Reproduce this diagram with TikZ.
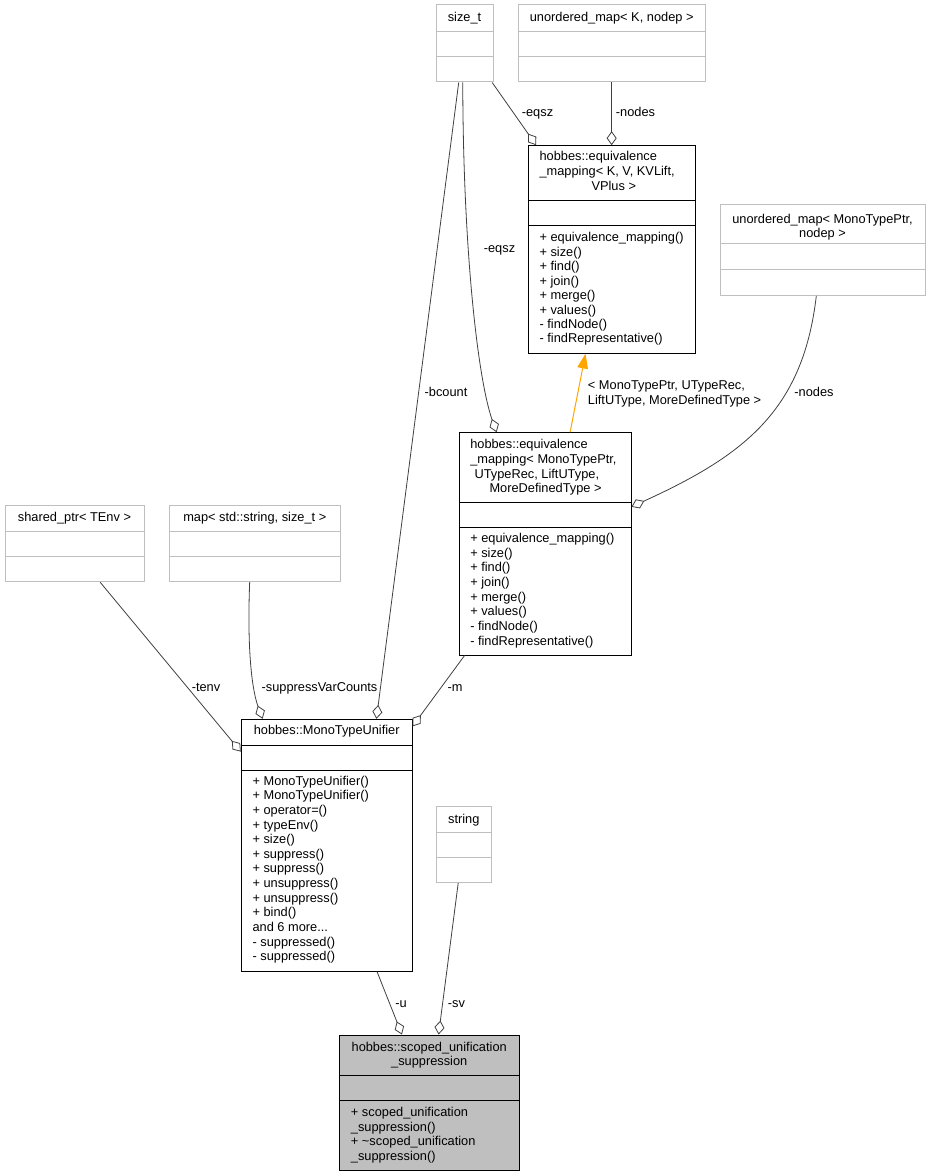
\documentclass[tikz,border=0pt]{standalone}
\usepackage{fontspec}
\setmainfont{Liberation Sans}
\usetikzlibrary{arrows.meta,fit,calc}
\definecolor{extgray}{HTML}{BFBFBF}
\definecolor{edgegray}{HTML}{404040}
\definecolor{inhorange}{HTML}{FFA500}
\definecolor{scopedfill}{HTML}{BFBFBF}
\begin{document}
\begin{tikzpicture}[x=0.75pt,y=-0.75pt,
  cls/.style={draw=black, line width=0.75pt, inner sep=0pt},
  ext/.style={draw=extgray, line width=0.75pt, inner sep=0pt},
  sep/.style={line width=0.75pt},
  txt/.style={font=\fontsize{9.6}{11}\selectfont, inner sep=0pt, anchor=base},
  txtl/.style={txt, anchor=base west},
  agg/.style={draw=edgegray, line width=0.6pt, -{Diamond[open,length=10.5pt,width=7.5pt,line width=0.6pt]}},
  inh/.style={draw=inhorange, line width=0.75pt, -{Triangle[length=11pt,width=8pt,fill=inhorange]}}
]
\useasboundingbox (0,0) rectangle (931,1176);
\fill[white] (0,0) rectangle (931,1176);

% ---------- boxes ----------
\node[ext, fit={(436,5) (493,82)}] (sizet) {};
\draw[extgray, sep] (436,32) -- (493,32) (436,57) -- (493,57);
\node[txt] (sizet-t) at (464.5,22) {size\_t};

\node[ext, fit={(518.3,5) (705,82)}] (umapK) {};
\draw[extgray, sep] (518.3,32) -- (705,32) (518.3,57) -- (705,57);
\node[txt] (umapK-t) at (611.7,22) {unordered\_map< K, nodep >};

\node[cls, fit={(528.3,145.7) (695,353.3)}] (eqK) {};
\draw[sep] (528.3,201) -- (695,201) (528.3,225.7) -- (695,225.7);
\node[txtl] (eqK-t1) at (539.3,160.5) {hobbes::equivalence};
\node[txtl] (eqK-t2) at (539.3,175.5) {\_mapping< K, V, KVLift,};
\node[txt]  (eqK-t3) at (613.8,190.5) {VPlus >};
\foreach \s [count=\i] in {+ equivalence\_mapping(), + size(), + find(), + join(), + merge(), + values(), - findNode(), - findRepresentative()}
  \node[txtl] (eqK-m\i) at (539.3,{241.8+(\i-1)*14.45}) {\s};

\node[ext, fit={(720,204.3) (925,295.3)}] (umapM) {};
\draw[extgray, sep] (720,244) -- (925,244) (720,269.3) -- (925,269.3);
\node[txt] (umapM-t1) at (822.5,223.5) {unordered\_map< MonoTypePtr,};
\node[txt] (umapM-t2) at (822.5,238) {nodep >};

\node[cls, fit={(459,432.7) (631,655)}] (eqM) {};
\draw[sep] (459,502.3) -- (631,502.3) (459,527.3) -- (631,527.3);
\node[txtl] (eqM-t1) at (470,448.3) {hobbes::equivalence};
\node[txtl] (eqM-t2) at (470,463) {\_mapping< MonoTypePtr,};
\node[txtl] (eqM-t3) at (474.3,478) {UTypeRec, LiftUType,};
\node[txtl] (eqM-t4) at (489.3,492.7) {MoreDefinedType >};
\foreach \s [count=\i] in {+ equivalence\_mapping(), + size(), + find(), + join(), + merge(), + values(), - findNode(), - findRepresentative()}
  \node[txtl] (eqM-m\i) at (470,{542.5+(\i-1)*14.65}) {\s};

\node[ext, fit={(5,505.7) (144,581.7)}] (shptr) {};
\draw[extgray, sep] (5,531.7) -- (144,531.7) (5,556.7) -- (144,556.7);
\node[txt] (shptr-t) at (74.5,521.3) {shared\_ptr< TEnv >};

\node[ext, fit={(169,505.7) (340.7,581.7)}] (mapstr) {};
\draw[extgray, sep] (169,531.7) -- (340.7,531.7) (169,556.7) -- (340.7,556.7);
\node[txt] (mapstr-t) at (254.8,521.3) {map< std::string, size\_t >};

\node[cls, fit={(241.3,719.3) (412,971)}] (mtu) {};
\draw[sep] (241.3,745) -- (412,745) (241.3,770) -- (412,770);
\node[txt] (mtu-t) at (326.7,734.7) {hobbes::MonoTypeUnifier};
\foreach \s [count=\i] in {+ MonoTypeUnifier(), + MonoTypeUnifier(), + operator=(), + typeEnv(), + size(), + suppress(), + suppress(), + unsuppress(), + unsuppress(), + bind(), and 6 more.\relax.\relax., - suppressed(), - suppressed()}
  \node[txtl] (mtu-m\i) at (252.3,{785.2+(\i-1)*14.63}) {\s};

\node[ext, fit={(436,806.7) (491.7,882.7)}] (str) {};
\draw[extgray, sep] (436,832.3) -- (491.7,832.3) (436,857.3) -- (491.7,857.3);
\node[txt] (str-t) at (463.8,823) {string};

\node[cls, fill=scopedfill, fit={(339,1035) (519.3,1170)}] (scoped) {};
\draw[sep] (339,1075.7) -- (519.3,1075.7) (339,1100.7) -- (519.3,1100.7);
\node[txt] (scoped-t1) at (429.2,1051.3) {hobbes::scoped\_unification};
\node[txt] (scoped-t2) at (429.2,1065.7) {\_suppression};
\node[txtl] (scoped-m1) at (350.7,1116.8) {+ scoped\_unification};
\node[txtl] (scoped-m2) at (350.7,1131.2) {\_suppression()};
\node[txtl] (scoped-m3) at (350.7,1145.8) {+ \textasciitilde scoped\_unification};
\node[txtl] (scoped-m4) at (350.7,1160.2) {\_suppression()};

% ---------- connectors ----------
\draw[agg] ($(sizet.south west)!0.977!(sizet.south east)$) -- ($(eqK.north west)!0.05!(eqK.north east)$);
\node[txt] (l-eqsz1) at (537.5,116.5) {-eqsz};

\draw[agg] (umapK.south) -- (eqK.north);
\node[txt] (l-nodes1) at (635.5,116.5) {-nodes};

\draw[agg] ($(sizet.south west)!0.47!(sizet.south east)$) .. controls (463,250) and (478,380) .. ($(eqM.north west)!0.22!(eqM.north east)$);
\node[txt] (l-eqsz2) at (499.5,253) {-eqsz};

\draw[agg] ($(sizet.south west)!0.40!(sizet.south east)$) -- ($(mtu.north west)!0.79!(mtu.north east)$);
\node[txt] (l-bcount) at (446,396) {-bcount};

\draw[inh] ($(eqM.north west)!0.645!(eqM.north east)$) -- ($(eqK.south west)!0.344!(eqK.south east)$);
\node[txtl] (l-inh1) at (587.7,389) {< MonoTypePtr, UTypeRec,};
\node[txtl] (l-inh2) at (587.7,404) {LiftUType, MoreDefinedType >};

\draw[agg] ($(umapM.south west)!0.47!(umapM.south east)$) .. controls (803,410) and (745,455) .. ($(eqM.north east)!0.334!(eqM.south east)$);
\node[txt] (l-nodes2) at (814,396) {-nodes};

\draw[agg] ($(shptr.south west)!0.683!(shptr.south east)$) -- ($(mtu.north west)!0.13!(mtu.south west)$);
\node[txt] (l-tenv) at (206,691) {-tenv};

\draw[agg] ($(mapstr.south west)!0.47!(mapstr.south east)$) .. controls (247,650) and (252,690) .. ($(mtu.north west)!0.127!(mtu.north east)$);
\node[txt] (l-svc) at (319.5,691) {-suppressVarCounts};

\draw[agg] ($(eqM.south west)!0.035!(eqM.south east)$) -- ($(mtu.north east)!0.03!(mtu.south east)$);
\node[txt] (l-m) at (455,691) {-m};

\draw[agg] ($(mtu.south west)!0.793!(mtu.south east)$) -- ($(scoped.north west)!0.35!(scoped.north east)$);
\node[txt] (l-u) at (401,1007) {-u};

\draw[agg] ($(str.south west)!0.40!(str.south east)$) -- ($(scoped.north west)!0.552!(scoped.north east)$);
\node[txt] (l-sv) at (456.5,1007) {-sv};
\end{tikzpicture}
\end{document}
